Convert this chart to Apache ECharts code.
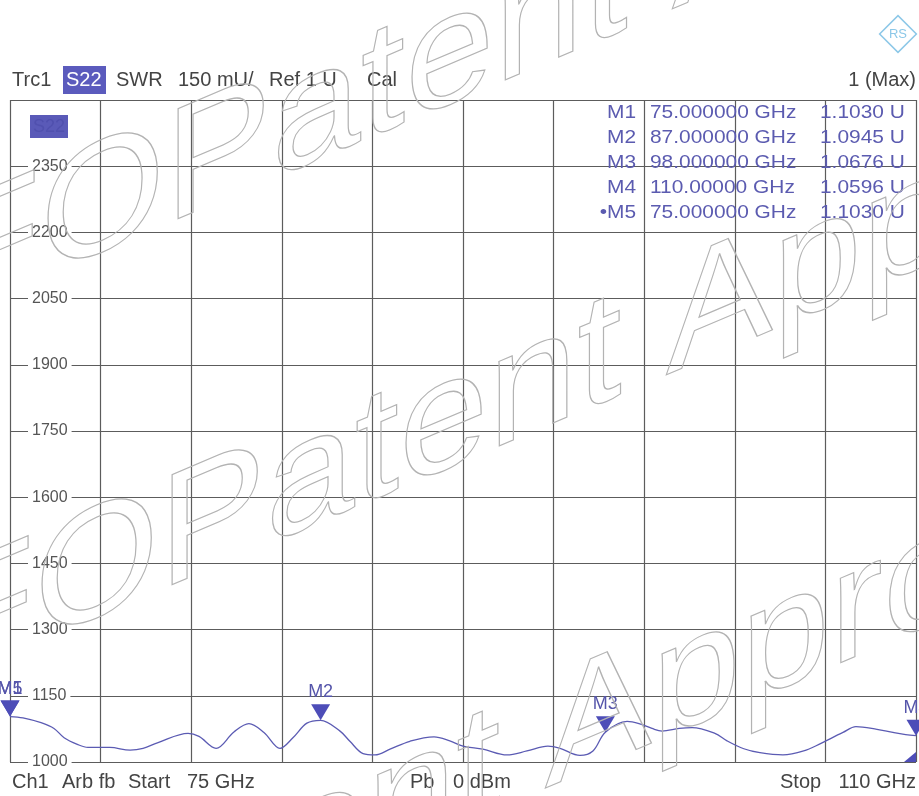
<!DOCTYPE html>
<html><head><meta charset="utf-8">
<script src="https://cdn.jsdelivr.net/npm/echarts/dist/echarts.min.js"></script>
<style>html,body{margin:0;padding:0;background:#fff}#c{width:919px;height:796px}</style>
</head><body><div id="c"></div>
<script>
// ---- data ----
const freqGHz = [75.00,75.50,76.20,76.70,77.09,77.60,78.01,78.86,79.64,80.14,80.72,81.88,82.30,82.96,83.65,84.23,84.81,85.43,85.93,86.47,87.00,87.75,88.13,88.64,89.10,89.68,90.45,91.38,91.99,92.50,93.27,94.20,94.97,95.78,96.25,97.02,97.52,98.00,98.84,99.30,99.80,100.19,100.85,101.35,102.23,102.70,103.35,103.97,104.86,105.66,106.33,106.56,107.18,107.68,108.49,109.11,109.60,110.00];
const swrMilliU = [1103,1100,1089,1076,1055,1040,1033,1033,1027,1031,1044,1065,1058,1031,1068,1087,1067,1031,1055,1088,1094.5,1070,1047,1019,1016,1029,1047,1057,1048,1036,1029,1016,1025,1036,1031,1015,1025,1067.6,1092,1087,1076,1070,1076,1078,1065,1048,1030,1021,1016,1025,1042,1049,1067,1080,1074,1067,1062,1059.6];
const markerNames = ['M1','M2','M3','M4','M5'];
const markerFreqGHz = [75, 87, 98, 110, 75];
const markerSWRU = [1.1030, 1.0945, 1.0676, 1.0596, 1.1030];
const activeMarker = 'M5';
const headerItems = ['Trc1','S22','SWR','150 mU/','Ref 1 U','Cal'];
const headerRight = '1 (Max)';
const footerLeft = ['Ch1','Arb fb','Start','75 GHz'];
const footerMid = ['Pb','0 dBm'];
const footerRight = ['Stop','110 GHz'];
const yMin = 1000, yMax = 2500, yStep = 150;
const xMin = 75, xMax = 110, xStep = 3.5;
const watermarkLeft = 'FO';
const watermarkRight = 'Patent Approved';

// ---- styles ----
const FONT = '"Liberation Sans", Arial, sans-serif';
const TRACE = '#5b5bb3';
const MARK = '#4d4db8';
const GRID = '#5c5c5c';
const TXT = '#444';

const chart = echarts.init(document.getElementById('c'), null, {renderer:'canvas'});

function txt(x, y, s, opt) {
  opt = opt || {};
  return {
    type:'text', x:x, y:y, z: opt.z || 10, scaleX: opt.scaleX || 1,
    style:{text:s, font:(opt.size||20)+'px '+FONT, fill:opt.color||TXT,
      align:opt.align||'left', textAlign:opt.align||'left',
      verticalAlign:'middle', textVerticalAlign:'middle'}
  };
}
const g = [];
// header
const hx = [12, 66, 116, 178, 269, 367];
headerItems.forEach((s,i)=>{
  if (i===1) g.push({type:'rect', shape:{x:63,y:66,width:43,height:28}, style:{fill:'#5b5bbd'}, z:9});
  g.push(txt(hx[i], 80, s, {color: i===1 ? '#fff' : TXT}));
});
g.push(txt(916, 80, headerRight, {align:'right'}));
// footer
const fx = [12, 62, 128, 187];
footerLeft.forEach((s,i)=>g.push(txt(fx[i], 782, s)));
g.push(txt(410, 782, footerMid[0]));
g.push(txt(453, 782, footerMid[1]));
g.push(txt(780, 782, footerRight[0]));
g.push(txt(916, 782, footerRight[1], {align:'right'}));
// trace badge inside grid
g.push({type:'rect', shape:{x:30,y:115,width:38,height:23}, style:{fill:'#5a5ab8'}, z:9});
g.push(txt(33, 127, headerItems[1], {color:'#5050ae', size:18}));
// marker table
markerNames.forEach((n,i)=>{
  const y = 113 + i*25;
  const label = (n===activeMarker ? '\u2022' : '') + n;
  g.push(txt(636, y, label, {align:'right', color:'#5b5bb0', size:19, scaleX:1.1}));
  g.push(txt(650, y, markerFreqGHz[i].toPrecision(8)+' GHz', {color:'#5b5bb0', size:19, scaleX:1.1}));
  g.push(txt(820, y, markerSWRU[i].toFixed(4)+' U', {color:'#5b5bb0', size:19, scaleX:1.1}));
});
// R&S logo
g.push({type:'rect', x:898, y:34, rotation:Math.PI/4, shape:{x:-13,y:-13,width:26,height:26}, style:{fill:'none', stroke:'#8cc8e8', lineWidth:1.5}, z:9});
g.push(txt(898, 34, 'RS', {align:'center', color:'#8cc8e8', size:13}));
// watermark (sheared outline text)
const skew = 23*Math.PI/180;
[[165,180,false],[159,546,false],[545,744,true]].forEach((p)=>{
  const wmFont = '160px "Liberation Sans", Arial, sans-serif';
  const left = p[2] ? watermarkLeft + ' Patent ' : watermarkLeft;
  const right = p[2] ? 'Approved' : watermarkRight;
  [[left,'right'],[right,'left']].forEach(([s,a])=>{
    g.push({type:'text', x:p[0], y:p[1], skewY:skew, z:100, silent:true,
      style:{text:s, font:wmFont, fill:'transparent', stroke:'#b3b3b3', lineWidth:1.2,
        align:a, textAlign:a, verticalAlign:'middle', textVerticalAlign:'middle'}});
  });
});

const traceData = freqGHz.map((f,i)=>[f, swrMilliU[i]]);
const markerData = markerNames.map((n,i)=>({name:n, value:[markerFreqGHz[i], markerSWRU[i]*1000]}));

chart.setOption({
  animation:false,
  backgroundColor:'#fff',
  grid:{left:10, top:100, width:906, height:662, show:false},
  xAxis:{type:'value', min:xMin, max:xMax, interval:xStep,
    axisLine:{show:false}, axisTick:{show:false}, axisLabel:{show:false},
    splitLine:{show:true, lineStyle:{color:GRID, width:1.2}}},
  yAxis:{type:'value', min:yMin, max:yMax, interval:yStep,
    axisLine:{show:false}, axisTick:{show:false},
    axisLabel:{inside:true, margin:18, color:'#555', fontSize:16, fontFamily:FONT,
      backgroundColor:'#fff', padding:[0,4], showMaxLabel:false,
      formatter:(v)=> v===yMax ? '' : String(v)},
    splitLine:{show:true, lineStyle:{color:GRID, width:1.2}}},
  graphic:{elements:g},
  series:[
    {type:'line', data:traceData, showSymbol:false, smooth:0.35,
      lineStyle:{color:TRACE, width:1.3}, z:3, clip:false},
    {type:'scatter', data:markerData, symbol:'path://M0,0 L20,0 L10,17 Z', symbolSize:[19,16], symbolOffset:[0,-8],
      itemStyle:{color:MARK, opacity:1}, z:5, clip:false,
      label:{show:true, position:'top', distance:3, formatter:'{b}', color:'#5555aa', fontSize:18, fontFamily:FONT}},
    {type:'scatter', data:[[xMax, yMin]], symbol:'path://M10,0 L10,10 L0,10 Z', symbolSize:[12,10], symbolOffset:[-6,-5],
      itemStyle:{color:MARK, opacity:1}, z:5, silent:true}
  ]
});
</script></body></html>
